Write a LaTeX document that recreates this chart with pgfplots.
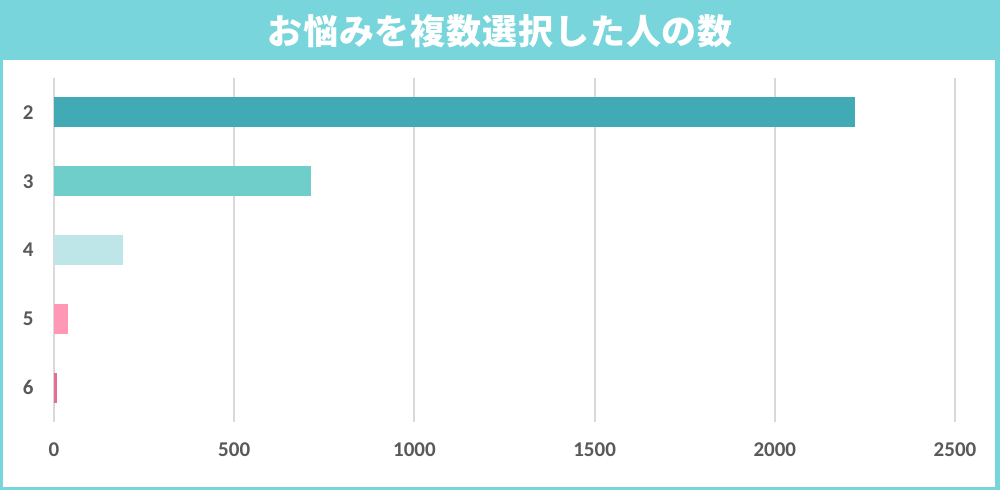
\documentclass[border=0pt]{standalone}
\usepackage{fontspec}
\setmainfont{Carlito}
\newfontfamily\cjk{Noto Sans CJK JP}[LetterSpace=2.5]
\usepackage{pgfplots}
\pgfplotsset{compat=1.18}

\definecolor{frameteal}{HTML}{78D5DB}
\definecolor{barA}{HTML}{42AAB4}
\definecolor{barB}{HTML}{6FCDCA}
\definecolor{barC}{HTML}{BEE6E9}
\definecolor{barD}{HTML}{FF97B5}
\definecolor{barE}{HTML}{E36E96}
\definecolor{gridgray}{HTML}{D9D9D9}
\definecolor{labelgray}{HTML}{595959}

\begin{document}
\begin{tikzpicture}
    % frame and title bar (1px = 0.5pt)
    \fill[frameteal] (0,0) rectangle (500pt,245pt);
    \fill[white] (1.5pt,1.5pt) rectangle (497.5pt,215pt);
    \useasboundingbox (0,0) rectangle (500pt,245pt);
    \node[text=white, inner sep=0pt] at (250pt,229.5pt)
        {\cjk\bfseries\fontsize{17.5}{17.5}\selectfont お悩みを複数選択した人の数};

    \begin{axis}[
        at={(27pt,34pt)}, anchor=south west,
        scale only axis, width=450.5pt, height=172pt,
        xbar, bar width=15pt, bar shift=0pt,
        xmin=0, xmax=2500,
        ymin=-0.5, ymax=4.5, y dir=reverse,
        ytick={0,1,2,3,4}, yticklabels={2,3,4,5,6},
        xtick={0,500,1000,1500,2000,2500},
        axis line style={draw=none},
        major tick length=0pt,
        xmajorgrids,
        major grid style={draw=gridgray, line width=1pt},
        tick label style={font=\bfseries\fontsize{10.5}{10.5}\selectfont, text=labelgray},
        yticklabel style={inner sep=0pt, xshift=-10pt},
        xticklabel style={inner sep=0pt, yshift=-10pt},
        /pgf/number format/assume math mode=true,
        /pgf/number format/1000 sep={},
    ]
    \addplot[draw=none, fill=barA] coordinates {(2222,0)};
    \addplot[draw=none, fill=barB] coordinates {(713,1)};
    \addplot[draw=none, fill=barC] coordinates {(191,2)};
    \addplot[draw=none, fill=barD] coordinates {(39,3)};
    \addplot[draw=none, fill=barE] coordinates {(8,4)};
    \end{axis}
\end{tikzpicture}
\end{document}
